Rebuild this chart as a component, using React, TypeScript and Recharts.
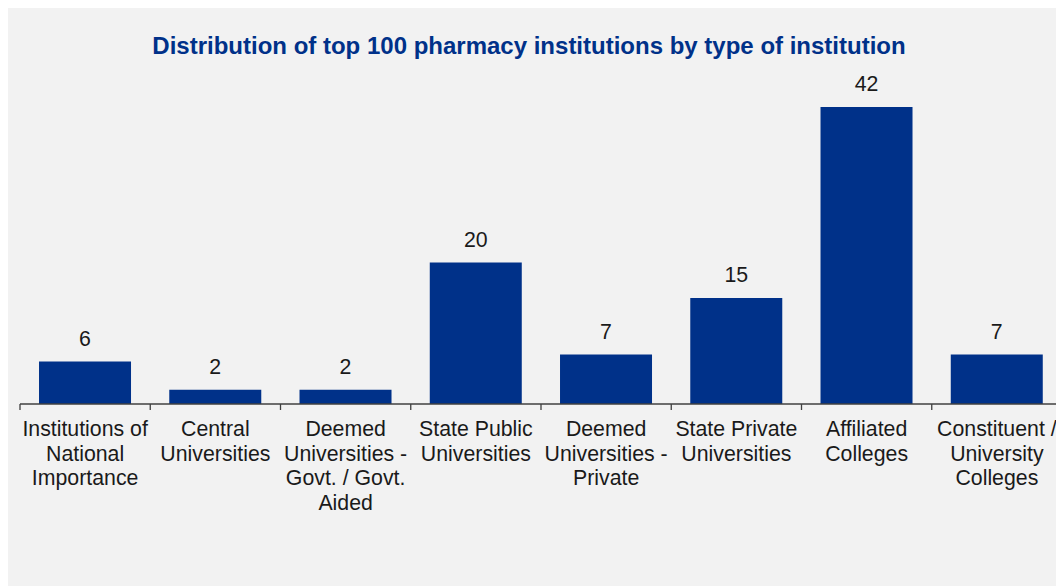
import { Bar, BarChart, LabelList, XAxis, YAxis } from 'recharts'

const categories = [
  'Institutions of\nNational\nImportance',
  'Central\nUniversities',
  'Deemed\nUniversities -\nGovt. / Govt.\nAided',
  'State Public\nUniversities',
  'Deemed\nUniversities -\nPrivate',
  'State Private\nUniversities',
  'Affiliated\nColleges',
  'Constituent /\nUniversity\nColleges',
]
const counts = [6, 2, 2, 20, 7, 15, 42, 7]

const data = categories.map((name, i) => ({ name, count: counts[i] }))

const W = 1056
const H = 578
const M = { top: 99, right: 2, left: 12, bottom: 0 }
const band = (W - M.left - M.right) / categories.length

function CategoryTick(props: any) {
  const { x, y, payload, index } = props
  const lines = String(payload.value).split('\n')
  const left = x - band / 2
  return (
    <g>
      <line x1={left} y1={y - 8} x2={left} y2={y - 2} stroke="#404040" strokeWidth={1.3} />
      {index === categories.length - 1 && (
        <line x1={left + band} y1={y - 8} x2={left + band} y2={y - 2} stroke="#404040" strokeWidth={1.3} />
      )}
      <text x={x} y={y + 24} textAnchor="middle" fontSize={21.3} fill="#1a1a1a" fontFamily="Liberation Sans, Arial, sans-serif">
        {lines.map((l, i) => (
          <tspan key={i} x={x} dy={i === 0 ? 0 : 24.5}>{l}</tspan>
        ))}
      </text>
    </g>
  )
}

export default function App() {
  return (
    <div style={{ position: 'relative', width: W, height: H, background: '#f2f2f2', fontFamily: 'Liberation Sans, Arial, sans-serif' }}>
      <div style={{ position: 'absolute', top: 24, left: 0, width: W - 14, textAlign: 'center', color: '#003189', fontWeight: 'bold', fontSize: 24 }}>
        Distribution of top 100 pharmacy institutions by type of institution
      </div>
      <BarChart width={W} height={H} data={data} margin={M} barCategoryGap="14.6%">
        <XAxis
          dataKey="name"
          interval={0}
          height={182}
          tickLine={false}
          axisLine={{ stroke: '#404040', strokeWidth: 1.5 }}
          tick={<CategoryTick />}
        />
        <YAxis hide domain={[0, 42]} />
        <Bar dataKey="count" fill="#003189" isAnimationActive={false}>
          <LabelList dataKey="count" position="top" offset={16} fontSize={21.3} fill="#1a1a1a" fontFamily="Liberation Sans, Arial, sans-serif" />
        </Bar>
      </BarChart>
    </div>
  )
}
